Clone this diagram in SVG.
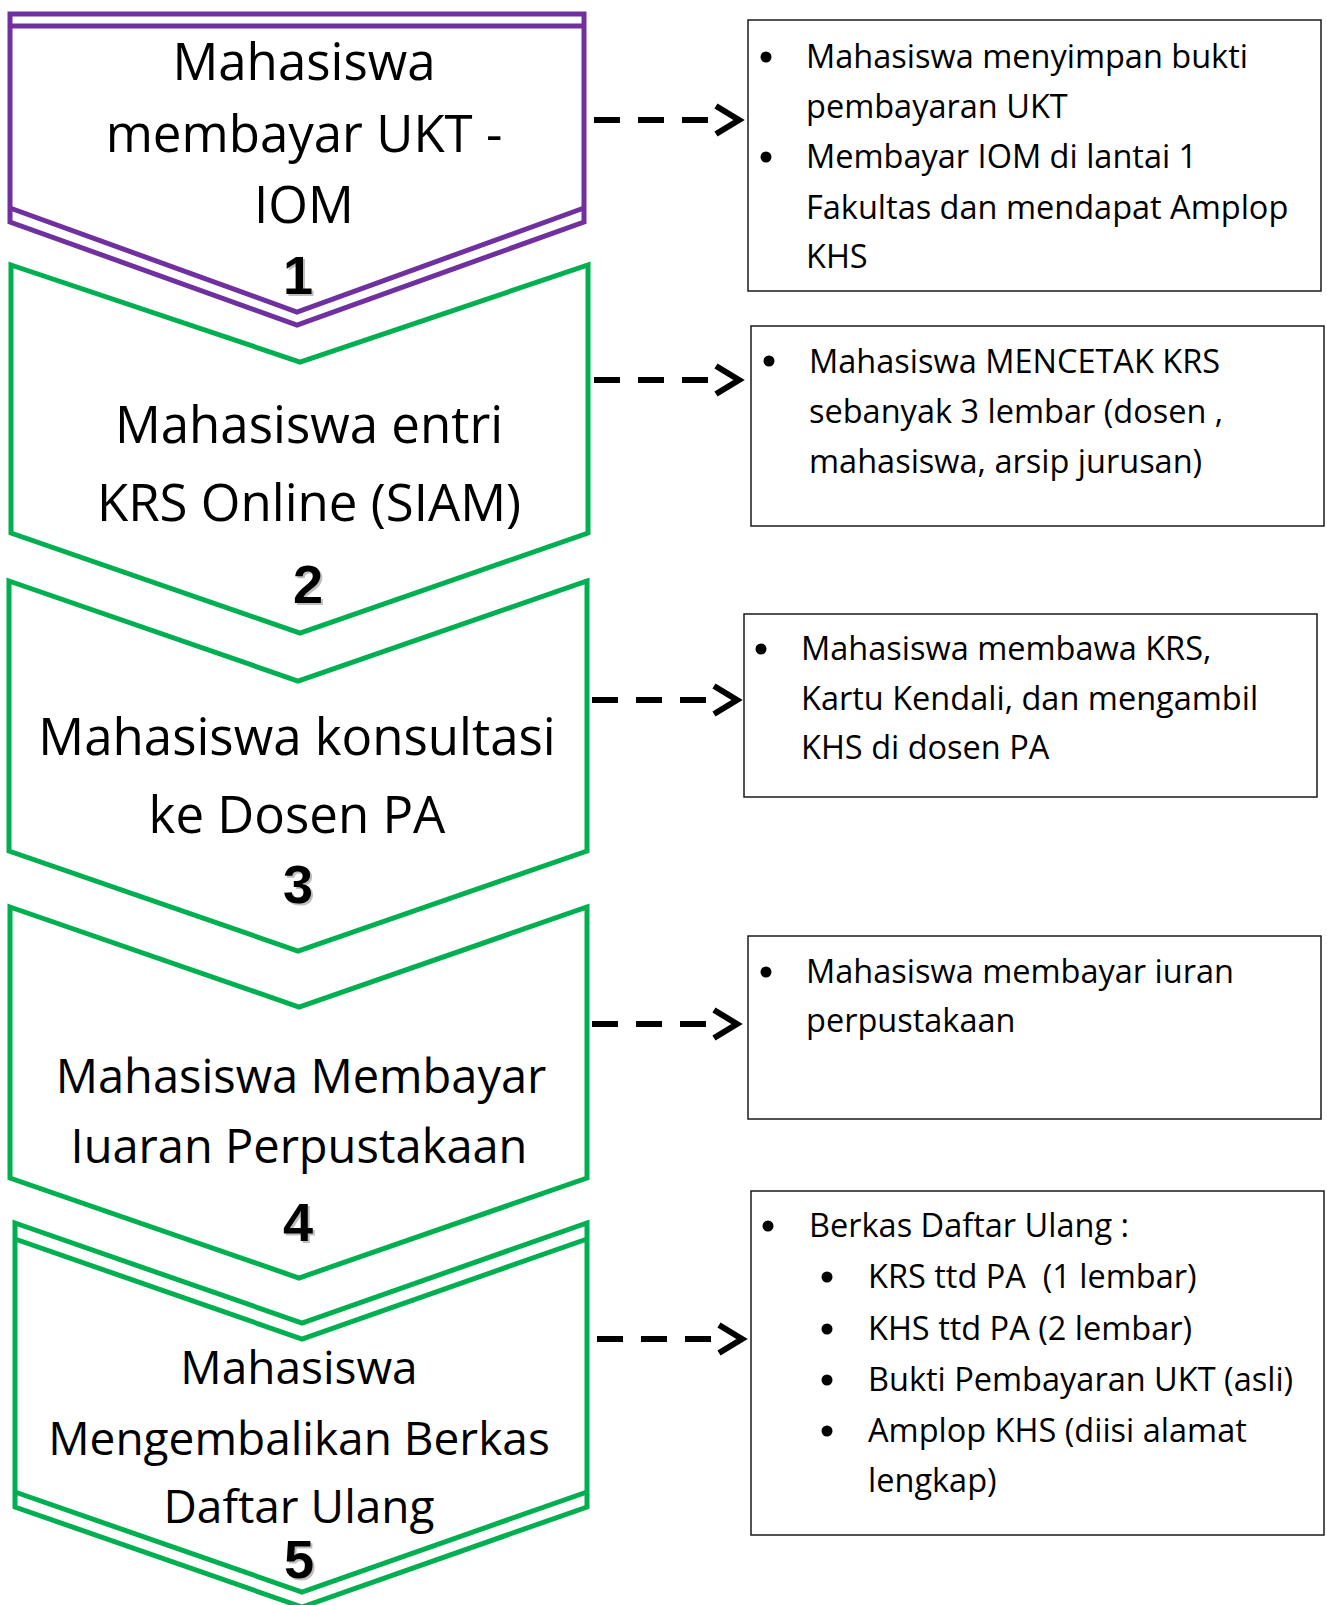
<svg xmlns="http://www.w3.org/2000/svg" width="1327" height="1605" viewBox="0 0 1327 1605">
<style>
.cv{fill:#fff;stroke-width:5;stroke-linejoin:miter}
.pu{stroke:#7030A0}
.gr{stroke:#00B050}
.ln{fill:none;stroke-width:5;stroke-linejoin:miter}
.t{font-family:"Open Sans","Liberation Sans",sans-serif;font-size:51px;fill:#000;text-anchor:middle}
.t4{font-size:47px}
.t5{font-size:46px}
.b{font-family:"Open Sans","Liberation Sans",sans-serif;font-size:32.5px;fill:#000}
.n{font-family:"Liberation Sans",Arial,sans-serif;font-weight:bold;font-size:54px;text-anchor:middle;fill:#000}
.ns{fill:#000;opacity:0.25}
.box{fill:#fff;stroke:#1a1a1a;stroke-width:1.5}
.dot{fill:#000}
.dash{fill:none;stroke:#000;stroke-width:6;stroke-dasharray:26 18}
.head{fill:none;stroke:#000;stroke-width:6;stroke-linejoin:miter}
</style>

<g id="step1">
<polygon class="cv pu" points="10,14 584,14 584,222 297,325 10,222"/>
<line class="ln pu" x1="10" y1="26" x2="584" y2="26"/>
<polyline class="ln pu" points="10,208 297,312 584,208"/>
<text class="t" x="304" y="80">Mahasiswa</text>
<text class="t" x="304" y="152">membayar UKT -</text>
<text class="t" x="304" y="223">IOM</text>
</g>

<g id="step2">
<polygon class="cv gr" points="11,265 300,362 588,265 588,533 300,633 11,533"/>
<text class="t" x="309" y="443">Mahasiswa entri</text>
<text class="t" x="309" y="521">KRS Online (SIAM)</text>
</g>

<g id="step3">
<polygon class="cv gr" points="9,581 298,681 587,581 587,851 298,951 9,851"/>
<text class="t" x="297" y="755">Mahasiswa konsultasi</text>
<text class="t" x="297" y="833">ke Dosen PA</text>
</g>

<g id="step4">
<polygon class="cv gr" points="10,907 299,1007 587,907 587,1178 299,1278 10,1178"/>
<text class="t t4" x="301" y="1093">Mahasiswa Membayar</text>
<text class="t t4" x="299" y="1163">Iuaran Perpustakaan</text>
</g>

<g id="step5">
<polygon class="cv gr" points="15,1223 302,1323 587,1223 587,1507 302,1607 15,1507"/>
<polyline class="ln gr" points="15,1239 302,1339 587,1239"/>
<polyline class="ln gr" points="15,1492 302,1592 587,1492"/>
<text class="t t5" x="299" y="1384">Mahasiswa</text>
<text class="t t5" x="299" y="1455">Mengembalikan Berkas</text>
<text class="t t5" x="299" y="1523">Daftar Ulang</text>
</g>

<g id="numbers">
<text class="n ns" x="300" y="296">1</text>
<text class="n" x="298" y="294">1</text>
<text class="n ns" x="310" y="605">2</text>
<text class="n" x="308" y="603">2</text>
<text class="n ns" x="300" y="905">3</text>
<text class="n" x="298" y="903">3</text>
<text class="n ns" x="300" y="1243">4</text>
<text class="n" x="298" y="1241">4</text>
<text class="n ns" x="301" y="1580">5</text>
<text class="n" x="299" y="1578">5</text>
</g>

<g id="note1">
<rect class="box" x="748" y="20" width="573" height="271"/>
<circle class="dot" cx="766" cy="57" r="5.5"/>
<text class="b" x="806" y="68">Mahasiswa menyimpan bukti</text>
<text class="b" x="806" y="118">pembayaran UKT</text>
<circle class="dot" cx="766" cy="157" r="5.5"/>
<text class="b" x="806" y="168">Membayar IOM di lantai 1</text>
<text class="b" x="806" y="219">Fakultas dan mendapat Amplop</text>
<text class="b" x="806" y="268">KHS</text>
</g>

<g id="note2">
<rect class="box" x="751" y="326" width="573" height="200"/>
<circle class="dot" cx="769" cy="361" r="5.5"/>
<text class="b" x="809" y="373">Mahasiswa MENCETAK KRS</text>
<text class="b" x="809" y="423">sebanyak 3 lembar (dosen ,</text>
<text class="b" x="809" y="473">mahasiswa, arsip jurusan)</text>
</g>

<g id="note3">
<rect class="box" x="744" y="614" width="573" height="183"/>
<circle class="dot" cx="761" cy="649" r="5.5"/>
<text class="b" x="801" y="660">Mahasiswa membawa KRS,</text>
<text class="b" x="801" y="710">Kartu Kendali, dan mengambil</text>
<text class="b" x="801" y="759">KHS di dosen PA</text>
</g>

<g id="note4">
<rect class="box" x="748" y="936" width="573" height="183"/>
<circle class="dot" cx="766" cy="972" r="5.5"/>
<text class="b" x="806" y="983">Mahasiswa membayar iuran</text>
<text class="b" x="806" y="1032">perpustakaan</text>
</g>

<g id="note5">
<rect class="box" x="751" y="1191" width="573" height="344"/>
<circle class="dot" cx="768" cy="1226" r="5.5"/>
<text class="b" x="809" y="1237">Berkas Daftar Ulang :</text>
<circle class="dot" cx="827" cy="1277" r="5.5"/>
<text class="b" x="868" y="1288" xml:space="preserve">KRS ttd PA  (1 lembar)</text>
<circle class="dot" cx="827" cy="1329" r="5.5"/>
<text class="b" x="868" y="1340">KHS ttd PA (2 lembar)</text>
<circle class="dot" cx="827" cy="1380" r="5.5"/>
<text class="b" x="868" y="1391">Bukti Pembayaran UKT (asli)</text>
<circle class="dot" cx="827" cy="1431" r="5.5"/>
<text class="b" x="868" y="1442">Amplop KHS (diisi alamat</text>
<text class="b" x="868" y="1492">lengkap)</text>
</g>

<g id="connectors">
<line class="dash" x1="594" y1="120" x2="708" y2="120"/>
<polyline class="head" points="716,106 739,120 716,134"/>
<line class="dash" x1="594" y1="380" x2="708" y2="380"/>
<polyline class="head" points="716,366 739,380 716,394"/>
<line class="dash" x1="592" y1="700" x2="706" y2="700"/>
<polyline class="head" points="714,686 737,700 714,714"/>
<line class="dash" x1="592" y1="1024" x2="706" y2="1024"/>
<polyline class="head" points="714,1010 737,1024 714,1038"/>
<line class="dash" x1="597" y1="1339" x2="711" y2="1339"/>
<polyline class="head" points="719,1325 742,1339 719,1353"/>
</g>
</svg>
